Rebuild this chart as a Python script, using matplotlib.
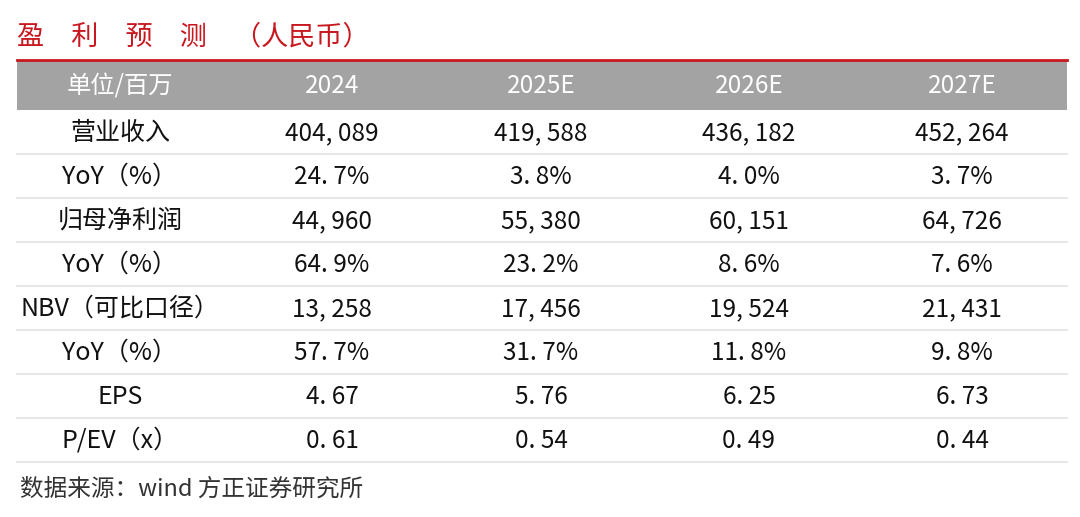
import matplotlib.pyplot as plt
from matplotlib.patches import Rectangle

plt.rcParams['font.family'] = ['Noto Sans CJK SC', 'DejaVu Sans']

title = "盈　利　预　测　（人民币）"
header = ["单位/百万", "2024", "2025E", "2026E", "2027E"]
row_labels = ["营业收入", "YoY（%）", "归母净利润", "YoY（%）",
              "NBV（可比口径）", "YoY（%）", "EPS", "P/EV（x）"]
col_2024 = ["404,089", "24.7%", "44,960", "64.9%", "13,258", "57.7%", "4.67", "0.61"]
col_2025 = ["419,588", "3.8%", "55,380", "23.2%", "17,456", "31.7%", "5.76", "0.54"]
col_2026 = ["436,182", "4.0%", "60,151", "8.6%", "19,524", "11.8%", "6.25", "0.49"]
col_2027 = ["452,264", "3.7%", "64,726", "7.6%", "21,431", "9.8%", "6.73", "0.44"]
source = "数据来源：wind 方正证券研究所"


def spaced(s):
    # the source font puts a wide gap after commas and points
    return s.replace(",", ", ").replace(".", ". ")


def main():
    fig = plt.figure(figsize=(10.8, 5.17), dpi=100)
    ax = fig.add_axes([0, 0, 1, 1])
    ax.set_xlim(0, 1080)
    ax.set_ylim(517, 0)
    ax.axis("off")

    left, right = 17, 1067
    top, head_h, row_h = 60, 50, 44
    col_x = [120, 332, 541, 749, 962]
    red = "#c8171e"

    ax.text(17, 37, title, color=red, fontsize=19.5, weight="medium",
            ha="left", va="center")

    ax.add_patch(Rectangle((left, top), right - left, head_h,
                           facecolor="#a3a3a3", edgecolor="none"))
    ax.plot([left, right], [top, top], color=red, lw=2)
    for x, h in zip(col_x, header):
        ax.text(x, top + head_h / 2 + 8, h, color="white", fontsize=17.5,
                ha="center", va="baseline")

    cols = [col_2024, col_2025, col_2026, col_2027]
    y0 = top + head_h
    for i, lab in enumerate(row_labels):
        yb_txt = y0 + i * row_h + row_h / 2 + 8
        ax.text(col_x[0], yb_txt, lab, fontsize=18, ha="center",
                va="baseline", color="#111111")
        for x, c in zip(col_x[1:], cols):
            ax.text(x, yb_txt, spaced(c[i]), fontsize=17.5, ha="center",
                    va="baseline", color="#111111")
        yb = y0 + (i + 1) * row_h
        ax.plot([left, right], [yb, yb], color="#e3e3e3", lw=1.2)

    ax.text(20, 489, source, fontsize=17, style="italic", ha="left",
            va="center", color="#333333")

    fig.savefig("out.png", dpi=100, facecolor="white")


if __name__ == "__main__":
    main()
